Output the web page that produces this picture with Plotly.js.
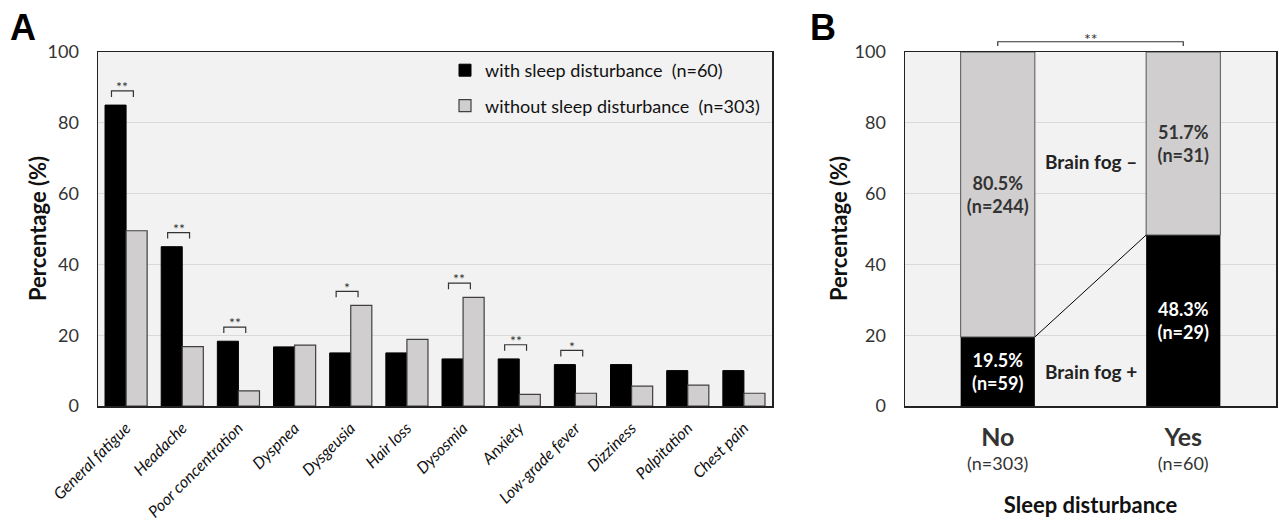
<!DOCTYPE html>
<html><head><meta charset="utf-8">
<script src="https://cdn.plot.ly/plotly-3.0.1.min.js"></script>
<style>body{margin:0;background:#fff}#chart{width:1279px;height:521px}</style>
</head><body><div id="chart"></div>
<script>
// ---- Panel A data ----
const symptoms = ["General fatigue","Headache","Poor concentration","Dyspnea","Dysgeusia","Hair loss","Dysosmia","Anxiety","Low-grade fever","Dizziness","Palpitation","Chest pain"];
const withSleep = [85.0,45.0,18.3,16.7,15.0,15.0,13.3,13.3,11.7,11.7,10.0,10.0];
const withoutSleep = [49.5,16.8,4.3,17.2,28.4,18.8,30.7,3.3,3.6,5.6,5.9,3.6];
const significance = ["**","**","**","","*","","**","**","*","","",""];
const legendWith = "with sleep disturbance\u00a0\u00a0(n=60)";
const legendWithout = "without sleep disturbance\u00a0\u00a0(n=303)";
const yTitle = "Percentage (%)";
// ---- Panel B data ----
const groupsB = ["No","Yes"];
const groupN = [303,60];
const fogPosPct = [19.5,48.3];
const fogPosN = [59,29];
const fogNegPct = [80.5,51.7];
const fogNegN = [244,31];
const sigB = "**";

const FONT = "Lato, 'Open Sans', sans-serif";
const W = 1279;
const gxB = [0,1];

const traces = [
  {type:'bar', x:symptoms, y:withSleep, name:legendWith, legendgroup:'g1',
   marker:{color:'#000000', line:{color:'#000000', width:1}}, xaxis:'x', yaxis:'y', hoverinfo:'skip'},
  {type:'bar', x:symptoms, y:withoutSleep, name:legendWithout, legendgroup:'g2',
   marker:{color:'#d0cecf', line:{color:'#404040', width:1.2}}, xaxis:'x', yaxis:'y', hoverinfo:'skip'},
  {type:'bar', x:gxB, y:fogPosPct, width:0.4, offset:-0.2, showlegend:false, xaxis:'x2', yaxis:'y2',
   marker:{color:'#000000', line:{width:0}},
   text: fogPosPct.map((p,i)=>p.toFixed(1)+'%<br>(n='+fogPosN[i]+')'),
   textposition:'inside', insidetextanchor:'middle', textangle:0, constraintext:'none',
   textfont:{family:FONT, size:18, color:'#ffffff', weight:'bold'}, hoverinfo:'skip'},
  {type:'bar', x:gxB, y:fogNegPct, base:fogPosPct, width:0.4, offset:-0.2, showlegend:false, xaxis:'x2', yaxis:'y2',
   marker:{color:'#d0cecf', line:{color:'#555555', width:1}},
   text: fogNegPct.map((p,i)=>p.toFixed(1)+'%<br>(n='+fogNegN[i]+')'),
   textposition:'inside', insidetextanchor:'middle', textangle:0, constraintext:'none',
   textfont:{family:FONT, size:18, color:'#333333', weight:'bold'}, hoverinfo:'skip'},
  {type:'scatter', mode:'lines', x:[gxB[0]+0.2, gxB[1]-0.2], y:[fogPosPct[0], fogPosPct[1]],
   xaxis:'x2', yaxis:'y2', showlegend:false, line:{color:'#000000', width:1}, hoverinfo:'skip'}
];

const shapes = [];
const annotations = [];
significance.forEach((s,i)=>{
  if(!s) return;
  const top = Math.max(withSleep[i], withoutSleep[i]) + 4;
  const x0 = i - 0.26, x1 = i + 0.13;
  shapes.push({type:'path', xref:'x', yref:'y',
    path:`M${x0},${top-1.7} L${x0},${top} L${x1},${top} L${x1},${top-1.7}`,
    line:{color:'#333333', width:1.2}});
  annotations.push({xref:'x', yref:'y', x:(x0+x1)/2, y:top+1.2, text:s, showarrow:false,
    yanchor:'middle', font:{family:FONT, size:14, color:'#333333'}});
});
// Panel B bracket
shapes.push({type:'path', xref:'x2', yref:'paper',
  path:`M${gxB[0]},1.017 L${gxB[0]},1.029 L${gxB[1]},1.029 L${gxB[1]},1.017`,
  line:{color:'#333333', width:1.2}});
annotations.push({xref:'x2', yref:'paper', x:(gxB[0]+gxB[1])/2, y:1.037, text:sigB, showarrow:false,
  yanchor:'middle', font:{family:FONT, size:16, color:'#333333'}});
annotations.push({xref:'x2', yref:'y2', x:0.5, y:69, text:'<b>Brain fog \u2013</b>', showarrow:false,
  font:{family:FONT, size:19, color:'#222222'}});
annotations.push({xref:'x2', yref:'y2', x:0.5, y:9.8, text:'<b>Brain fog +</b>', showarrow:false,
  font:{family:FONT, size:19, color:'#222222'}});
annotations.push({xref:'paper', yref:'paper', x:8/W, xanchor:'left', y:1.07, yanchor:'middle',
  text:'<b>A</b>', showarrow:false, font:{family:"'Liberation Sans', Arial, sans-serif", size:36, color:'#000'}});
annotations.push({xref:'paper', yref:'paper', x:808/W, xanchor:'left', y:1.07, yanchor:'middle',
  text:'<b>B</b>', showarrow:false, font:{family:"'Liberation Sans', Arial, sans-serif", size:36, color:'#000'}});
// y-axis titles
[37, 838].forEach(px=>{
  annotations.push({xref:'paper', yref:'paper', x:px/W, y:0.5, xanchor:'center', yanchor:'middle',
    textangle:-90, text:'<b>'+yTitle+'</b>', showarrow:false,
    font:{family:FONT, size:22, color:'#111'}});
});

const yax = {range:[0,100], dtick:20, showgrid:true, gridcolor:'#d9d9d9', gridwidth:1,
  zeroline:false, showline:true, mirror:true, linecolor:'#222222', linewidth:1.5,
  ticks:'outside', ticklen:14, tickcolor:'rgba(0,0,0,0)',
  tickfont:{family:FONT, size:18, color:'#333333'}};

const layout = {
  width:1279, height:521,
  margin:{l:0, r:0, t:52, b:115},
  paper_bgcolor:'#ffffff', plot_bgcolor:'#f2f2f2',
  barmode:'group', bargap:0.25, bargroupgap:0,
  showlegend:true,
  legend:{x:445/W, y:1, xanchor:'left', yanchor:'top', bgcolor:'rgba(0,0,0,0)',
    font:{family:FONT, size:18, color:'#111111'}, tracegroupgap:9, traceorder:'grouped'},
  xaxis:{domain:[98/W, 772/W], anchor:'y', type:'category', tickangle:-45,
    showgrid:false, zeroline:false, showline:true, mirror:true, linecolor:'#222222', linewidth:1.5,
    ticks:'outside', ticklen:5, tickcolor:'rgba(0,0,0,0)',
    tickfont:{family:FONT, size:16, color:'#111111', style:'italic'}},
  yaxis:Object.assign({}, yax, {anchor:'x', domain:[0,1]}),
  xaxis2:{domain:[905/W, 1276/W], anchor:'y2', range:[-0.5,1.5], tickvals:gxB,
    ticktext: groupsB.map((g,i)=>'<span style="font-size:25px"><b>'+g+'</b></span><br>(n='+groupN[i]+')'),
    showgrid:false, zeroline:false, showline:true, mirror:true, linecolor:'#222222', linewidth:1.5,
    ticks:'outside', ticklen:17, tickcolor:'rgba(0,0,0,0)',
    tickfont:{family:FONT, size:18, color:'#333333'},
    title:{text:'<b>Sleep disturbance</b>', font:{family:FONT, size:22, color:'#111'}, standoff:25}},
  yaxis2:Object.assign({}, yax, {anchor:'x2', domain:[0,1]}),
  shapes:shapes, annotations:annotations
};

Plotly.newPlot('chart', traces, layout, {staticPlot:true});
</script></body></html>
